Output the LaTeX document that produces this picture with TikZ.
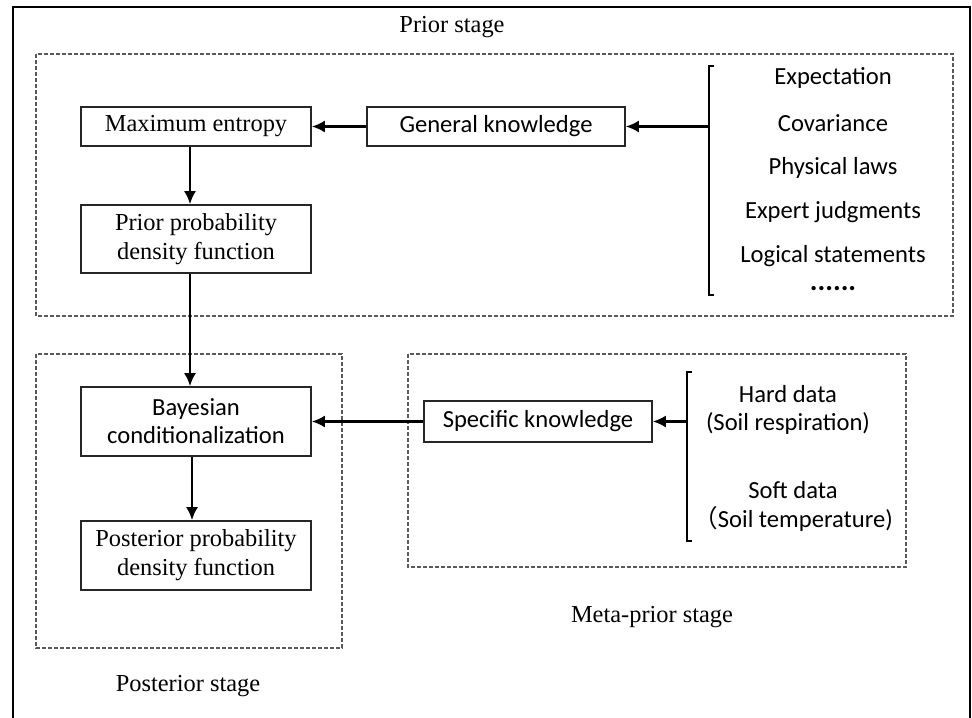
\documentclass[tikz,border=0pt]{standalone}
\usepackage{fontspec}
\setmainfont{Liberation Serif}
\newfontfamily\calfont{Carlito}
\newfontfamily\cjkfont{Noto Sans CJK SC}
\usetikzlibrary{arrows.meta}
\begin{document}
\begin{tikzpicture}[x=0.5pt,y=-0.5pt,
  tbox/.style={draw=black!85,line width=0.8pt,inner sep=0pt,align=center,
     font=\fontsize{12.2}{14.5}\selectfont,minimum width=115pt},
  cbox/.style={draw=black!85,line width=0.8pt,inner sep=0pt,align=center,
     font=\calfont\fontsize{12.3}{14}\selectfont},
  stage/.style={draw=black!65,line width=0.8pt,dash pattern=on 2pt off 1pt},
  arr/.style={line width=1.1pt,-{Latex[length=6.5pt,width=6pt]}},
  brk/.style={line width=1.1pt},
  lbl/.style={font=\fontsize{12.2}{14.5}\selectfont,inner sep=0pt},
  item/.style={font=\calfont\fontsize{12.3}{14.5}\selectfont,inner sep=0pt,align=center}]
\useasboundingbox (0,0) rectangle (972,717);
\clip (0,0) rectangle (972,717);
% outer frame
\draw[line width=1.1pt] (13,730) -- (13,7) -- (970,7) -- (970,730);
% stage boxes
\draw[stage] (36,54) rectangle (953,316);
\draw[stage] (36,354) rectangle (342,648);
\draw[stage] (408,354) rectangle (906,567);
% stage labels
\node[lbl] (lprior) at (452,27) {Prior stage};
\node[lbl] (lpost) at (188,686) {Posterior stage};
\node[lbl] (lmeta) at (652,617) {Meta-prior stage};
% boxes
\node[tbox,minimum height=19.5pt] (me) at (196,126.5) {Maximum entropy};
\node[tbox,minimum height=34pt] (ppdf) at (196,239) {Prior probability\\density function};
\node[cbox,minimum width=129pt,minimum height=19.5pt] (gk) at (496,126.5) {General knowledge};
\node[cbox,minimum width=115pt,minimum height=34.5pt] (bayes) at (196,421.5) {Bayesian\\conditionalization};
\node[tbox,minimum height=34.5pt] (post) at (196,555.5) {Posterior probability\\density function};
\node[cbox,minimum width=114pt,minimum height=20.5pt] (sk) at (538,421.5) {Specific knowledge};
% bracket 1 and items
\draw[brk] (714,66) -- (709,66) -- (709,295) -- (714,295);
\coordinate (b1) at (709,126.5);
\node[item] (i1) at (833,78) {Expectation};
\node[item] (i2) at (833,123) {Covariance};
\node[item] (i3) at (833,168) {Physical laws};
\node[item] (i4) at (833,212) {Expert judgments};
\node[item] (i5) at (833,256) {Logical statements};
\node[item,font=\calfont\bfseries\fontsize{14.5}{15}\selectfont,text height=2pt,text depth=0pt] (i6) at (833,288) {......};
% bracket 2 and items
\draw[brk] (692,372) -- (687,372) -- (687,541) -- (692,541);
\coordinate (b2) at (687,421.5);
\node[item] (h1) at (788,394) {Hard data};
\node[item] (h2) at (788,423) {(Soil respiration)};
\node[item] (s1) at (793,490) {Soft data};
\node[item] (s2) at (793,519) {{\cjkfont （}Soil temperature)};
% arrows
\draw[arr] (b1) -- (gk.east);
\draw[arr] (gk.west) -- (me.east);
\draw[arr] ([xshift=-3pt]me.south) -- ([xshift=-3pt]ppdf.north);
\draw[arr] ([xshift=-3pt]ppdf.south) -- ([xshift=-3pt]bayes.north);
\draw[arr] ([xshift=-2pt]bayes.south) -- ([xshift=-2pt]post.north);
\draw[arr] (b2) -- (sk.east);
\draw[arr] (sk.west) -- (bayes.east);
\end{tikzpicture}
\end{document}
